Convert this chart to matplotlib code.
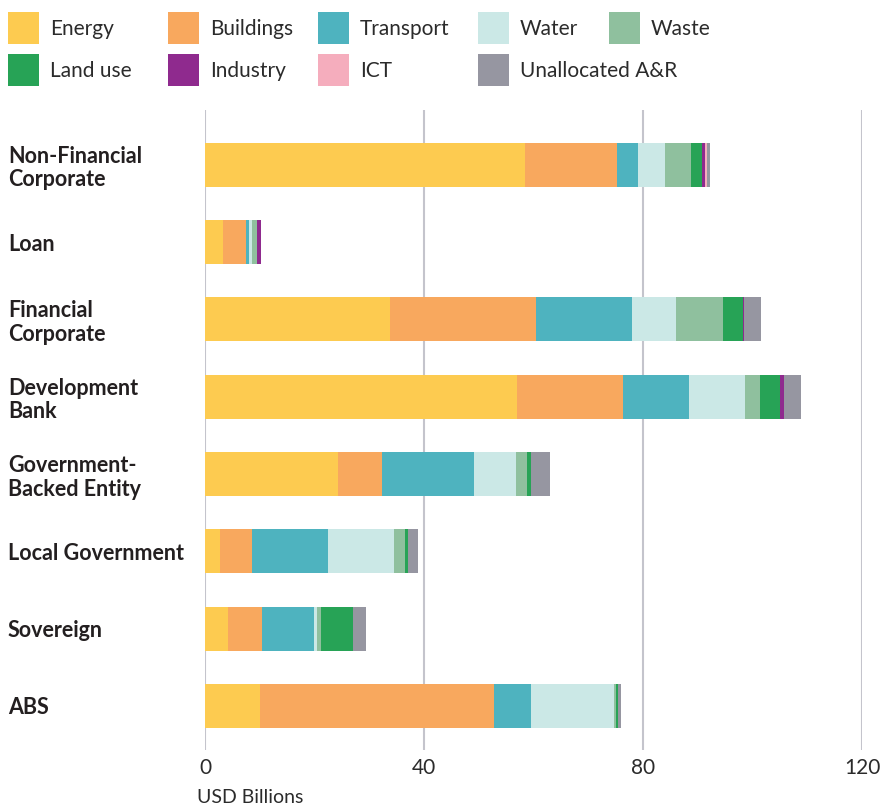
import matplotlib
matplotlib.use("Agg")
import matplotlib.pyplot as plt
from matplotlib.patches import Rectangle
import numpy as np

categories = ["Non-Financial\nCorporate", "Loan", "Financial\nCorporate", "Development\nBank",
              "Government-\nBacked Entity", "Local Government", "Sovereign", "ABS"]
sectors = ["Energy", "Buildings", "Transport", "Water", "Waste",
           "Land use", "Industry", "ICT", "Unallocated A&R"]
colors = ["#FDCB50", "#F8A85E", "#4EB3BF", "#CBE8E6", "#8FC09E",
          "#27A356", "#8F2A8E", "#F5ADBD", "#9696A1"]

energy      = [58.5, 3.3, 33.8, 56.9, 24.3, 2.7, 4.2, 10.0]
buildings   = [16.8, 4.2, 26.7, 19.5, 8.0, 5.9, 6.2, 42.8]
transport   = [3.7, 0.55, 17.5, 12.0, 16.8, 13.9, 9.5, 6.7]
water       = [5.1, 0.55, 8.1, 10.2, 7.7, 12.0, 0.6, 15.2]
waste       = [4.7, 0.9, 8.5, 2.7, 2.0, 2.0, 0.7, 0.4]
land_use    = [1.9, 0.0, 3.6, 3.7, 0.7, 0.6, 5.8, 0.4]
industry    = [0.55, 0.7, 0.2, 0.7, 0.0, 0.0, 0.0, 0.0]
ict         = [0.35, 0.0, 0.0, 0.0, 0.0, 0.0, 0.0, 0.0]
unallocated = [0.6, 0.0, 3.1, 3.2, 3.5, 1.8, 2.4, 0.5]

series = [energy, buildings, transport, water, waste, land_use, industry, ict, unallocated]
xticks = [0, 40, 80, 120]

plt.rcParams['font.family'] = ['Lato', 'DejaVu Sans']
TXT = '#2b2b2b'

fig = plt.figure(figsize=(8.8, 8.05), dpi=100)
ax = fig.add_axes([205/880, 1-750/805, (862-205)/880, (750-110)/805])

y = np.arange(len(categories))
left = np.zeros(len(categories))
for vals, col, name in zip(series, colors, sectors):
    v = np.array(vals)
    ax.barh(y, v, left=left, height=0.57, color=col, edgecolor='none', label=name, zorder=2)
    left += v

for xt in xticks:
    ax.axvline(xt, color='#c4c4cc', lw=1.5, zorder=1)

ax.set_xlim(0, 120)
ax.set_ylim(7 + 0.57, -0.71)
ax.set_xticks(xticks)
ax.set_xticklabels([str(t) for t in xticks], fontsize=15, color=TXT, fontweight='normal')
ax.set_yticks(y)
ax.set_yticklabels(categories, fontsize=15.5, fontweight='bold', color='#231f20',
                   ha='left', linespacing=1.15)
ax.tick_params(axis='y', length=0, pad=197*0.72)
ax.tick_params(axis='x', length=0, pad=6)
for s in ax.spines.values():
    s.set_visible(False)

fig.text(197/880, 1-797/805, "USD Billions", fontsize=14, color=TXT,
         fontweight='normal', ha='left', va='center')

# legend
leg_pos = [(8, 28), (168, 28), (318, 28), (478, 28), (609, 28),
           (8, 70), (168, 70), (318, 70), (478, 70)]
for (px, py), col, name in zip(leg_pos, colors, sectors):
    fig.add_artist(Rectangle((px/880, 1-(py+16)/805), 31/880, 32/805,
                             transform=fig.transFigure, color=col, lw=0))
    fig.text((px+42)/880, 1-(py+1)/805, name, fontsize=15, color=TXT,
             fontweight='normal', ha='left', va='center')

fig.savefig("out.png", dpi=100)
